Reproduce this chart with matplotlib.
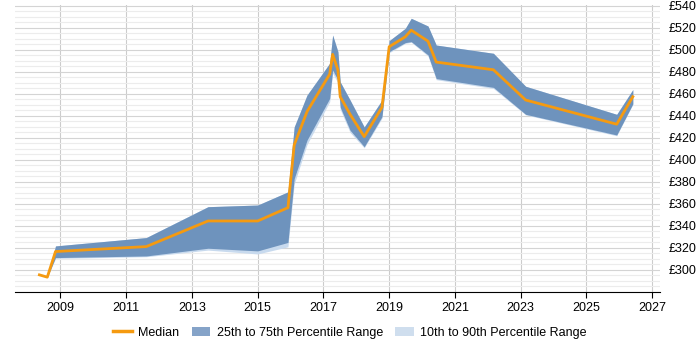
import numpy as np
import matplotlib
matplotlib.use("Agg")
import matplotlib.pyplot as plt
from matplotlib.ticker import MultipleLocator, FixedLocator, FuncFormatter
from matplotlib.patches import Patch
from matplotlib.lines import Line2D

plt.rcParams['font.family'] = ['Liberation Sans', 'DejaVu Sans']

# dates as decimal years
years = [2008.36, 2008.6, 2008.85, 2011.61, 2013.49, 2015.0, 2015.92, 2016.11,
         2016.5, 2017.19, 2017.28, 2017.44, 2017.51, 2017.81, 2018.24, 2018.78,
         2019.0, 2019.49, 2019.67, 2020.18, 2020.43, 2022.17, 2023.15, 2025.92, 2026.41]
median = [295.5, 293.4, 316.7, 321.2, 344.5, 344.5, 356.6, 413.6,
          443.9, 478, 496, 481.8, 457.5, 441.5, 421.2, 447.9,
          503, 512, 518, 508, 489, 482, 454.5, 432.5, 457.5]
p75 = [295.5, 293.4, 321.8, 329.4, 357.5, 359, 371, 430,
       459, 488, 513.6, 498.5, 471, 454.5, 430, 454.5,
       508.5, 519.7, 528.8, 521.8, 504.5, 497, 467, 441.5, 464]
p25 = [295.5, 293.4, 311.2, 312.7, 319.7, 317.3, 325, 383,
       418, 456, 481.8, 472.7, 448, 427, 412, 439.4,
       498.5, 506.7, 507.6, 495.5, 474, 466, 441.5, 422.7, 451]
p90 = [295.5, 293.4, 321.8, 329.4, 357.5, 359, 371, 430,
       459, 488, 513.6, 498.5, 471, 454.5, 430, 454.5,
       508.5, 519.7, 528.8, 521.8, 504.5, 497, 467, 441.5, 464]
p10 = [295.5, 293.4, 310.5, 312, 318, 314.5, 321, 378,
       414, 453, 479, 470, 446, 425, 411, 438,
       497.5, 506, 507, 494.5, 473, 465, 441, 422, 450.5]

x_ticks = list(range(2009, 2028, 2))
y_ticks = list(range(300, 541, 20))

fig, ax = plt.subplots(figsize=(7, 3.5), dpi=100)
fig.subplots_adjust(left=0.022, right=0.943, top=0.986, bottom=0.166)

ax.fill_between(years, p10, p90, color='#c8daee', linewidth=0, zorder=2)
ax.fill_between(years, p25, p75, color='#6e93bd', linewidth=0, zorder=3)
ax.plot(years, median, color='#f59a10', linewidth=2, zorder=4)

ax.set_xlim(2007.63, 2027.24)
ax.set_ylim(280, 541)
ax.xaxis.set_major_locator(FixedLocator(x_ticks))
ax.yaxis.set_major_locator(FixedLocator(y_ticks))
ax.yaxis.set_minor_locator(MultipleLocator(5))
ax.yaxis.set_major_formatter(FuncFormatter(lambda v, p: f'£{int(v)}'))
ax.yaxis.tick_right()

ax.grid(axis='x', color='#cccccc', linewidth=0.8)
ax.grid(axis='y', which='major', color='#d4d4d4', linewidth=0.8)
ax.grid(axis='y', which='minor', color='#ececec', linewidth=0.8)
ax.set_axisbelow(True)

for s in ['top', 'left', 'right']:
    ax.spines[s].set_visible(False)
ax.spines['bottom'].set_color('black')
ax.tick_params(axis='y', which='both', length=0, labelsize=9, pad=6)
ax.tick_params(axis='x', length=4, labelsize=9, color='black')

handles = [Line2D([], [], color='#f59a10', linewidth=2.5),
           Patch(facecolor='#85a3c8'),
           Patch(facecolor='#cfdeee')]
labels = ['Median', '25th to 75th Percentile Range', '10th to 90th Percentile Range']
fig.legend(handles, labels, loc='lower center', ncol=3, frameon=False,
           fontsize=9, bbox_to_anchor=(0.5, 0.0), handlelength=1.5,
           columnspacing=1.0, handletextpad=0.5)

fig.savefig('out.png')
